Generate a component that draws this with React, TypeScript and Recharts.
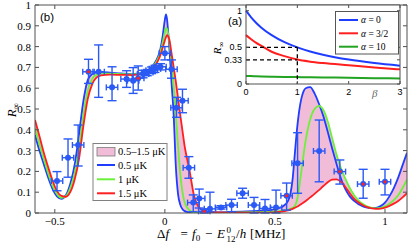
import React from "react";
import {
  ComposedChart,
  Line,
  Area,
  Scatter,
  ErrorBar,
  XAxis,
  YAxis,
  ReferenceLine,
  CartesianGrid,
} from "recharts";

// ---------- main panel (b): theory curves ----------
const freqMHz = [
  -0.59, -0.57, -0.55, -0.53, -0.51, -0.49, -0.47, -0.45, -0.43, -0.41, -0.39, -0.37, -0.35, -0.33, -0.31, -0.29,
  -0.25, -0.2, -0.15, -0.1, -0.07, -0.05, -0.03, -0.02, -0.01, 0, 0.005, 0.01, 0.015, 0.02, 0.03, 0.04, 0.05, 0.06,
  0.07, 0.08, 0.09, 0.1, 0.11, 0.12, 0.13, 0.14, 0.15, 0.17, 0.2, 0.25, 0.3, 0.35, 0.4, 0.45, 0.5, 0.52, 0.54, 0.56,
  0.57, 0.58, 0.59, 0.6, 0.61, 0.62, 0.63, 0.64, 0.66, 0.68, 0.7, 0.72, 0.74, 0.76, 0.78, 0.8, 0.82, 0.84, 0.86,
  0.88, 0.9, 0.92, 0.94, 0.96, 0.98, 1.0, 1.02, 1.04, 1.06, 1.08, 1.1,
];
const r05uK = [
  0.375, 0.3, 0.235, 0.17, 0.115, 0.08, 0.068, 0.085, 0.14, 0.23, 0.38, 0.54, 0.64, 0.668, 0.676, 0.677,
  0.675, 0.671, 0.668, 0.675, 0.69, 0.715, 0.755, 0.79, 0.85, 0.93, 0.955, 0.93, 0.87, 0.8, 0.63, 0.47, 0.22, 0.09,
  0.04, 0.018, 0.009, 0.005, 0.003, 0.002, 0.001, 0.001, 0.001, 0.001, 0.002, 0.003, 0.005, 0.007, 0.009, 0.012, 0.018, 0.024, 0.035, 0.06,
  0.09, 0.16, 0.28, 0.4, 0.49, 0.55, 0.585, 0.6, 0.605, 0.575, 0.525, 0.465, 0.39, 0.31, 0.235, 0.165, 0.115, 0.08, 0.058,
  0.042, 0.032, 0.026, 0.023, 0.025, 0.033, 0.05, 0.08, 0.12, 0.17, 0.23, 0.29,
];
const r1uK = [
  0.41, 0.33, 0.26, 0.19, 0.13, 0.09, 0.073, 0.08, 0.12, 0.19, 0.31, 0.47, 0.59, 0.645, 0.665, 0.67,
  0.67, 0.668, 0.666, 0.673, 0.686, 0.708, 0.745, 0.775, 0.82, 0.87, 0.89, 0.885, 0.86, 0.825, 0.73, 0.61, 0.47, 0.32,
  0.19, 0.1, 0.05, 0.028, 0.015, 0.008, 0.004, 0.002, 0.001, 0.001, 0.001, 0.001, 0.002, 0.003, 0.004, 0.005, 0.007, 0.009, 0.012, 0.016,
  0.02, 0.025, 0.033, 0.06, 0.12, 0.2, 0.28, 0.35, 0.45, 0.5, 0.515, 0.495, 0.44, 0.36, 0.28, 0.215, 0.165, 0.12, 0.085,
  0.06, 0.043, 0.031, 0.025, 0.022, 0.024, 0.032, 0.045, 0.062, 0.085, 0.12, 0.16,
];
const r15uK = [
  0.447, 0.37, 0.29, 0.22, 0.155, 0.105, 0.082, 0.078, 0.1, 0.16, 0.26, 0.42, 0.55, 0.62, 0.652, 0.662,
  0.665, 0.664, 0.663, 0.67, 0.682, 0.7, 0.735, 0.76, 0.795, 0.83, 0.845, 0.855, 0.85, 0.835, 0.77, 0.7, 0.63, 0.55,
  0.47, 0.395, 0.32, 0.265, 0.215, 0.155, 0.095, 0.058, 0.035, 0.014, 0.005, 0.003, 0.002, 0.002, 0.002, 0.002, 0.003, 0.005, 0.008, 0.012,
  0.016, 0.02, 0.025, 0.03, 0.036, 0.043, 0.05, 0.058, 0.075, 0.092, 0.11, 0.13, 0.148, 0.16, 0.162, 0.15, 0.125, 0.095, 0.068,
  0.05, 0.037, 0.028, 0.022, 0.02, 0.021, 0.026, 0.034, 0.045, 0.058, 0.075, 0.095,
];

// ---------- main panel (b): measurements ----------
const measF = [
  -0.49, -0.44, -0.394, -0.347, -0.301, -0.24, -0.174, -0.144, -0.121, -0.099, -0.08, -0.06, -0.045, -0.02, 0.0,
  0.03, 0.053, 0.08, 0.109, 0.129, 0.156, 0.179, 0.205, 0.255, 0.303, 0.353, 0.405, 0.455, 0.505, 0.553, 0.603,
  0.701, 0.795, 0.901, 1.0,
];
const measR = [
  0.154, 0.266, 0.327, 0.679, 0.679, 0.604, 0.644, 0.636, 0.648, 0.668, 0.675, 0.686, 0.693, 0.703, 0.768,
  0.691, 0.506, 0.54, 0.218, 0.05, 0.07, 0.008, 0.02, 0.027, 0.038, 0.095, 0.038, 0.022, 0.027, 0.083, 0.239,
  0.298, 0.199, 0.139, 0.15,
];
const measLow = [
  0.107, 0.172, 0.226, 0.623, 0.556, 0.54, 0.604, 0.575, 0.591, 0.65, 0.66, 0.67, 0.676, 0.688, 0.736,
  0.648, 0.46, 0.482, 0.167, 0.006, 0.024, 0.0, 0.005, 0.019, 0.006, 0.071, 0.0, 0.0, 0.0, 0.014, 0.095,
  0.15, 0.139, 0.071, 0.087,
];
const measHigh = [
  0.199, 0.356, 0.423, 0.739, 0.808, 0.703, 0.684, 0.699, 0.707, 0.686, 0.69, 0.702, 0.71, 0.718, 0.8,
  0.736, 0.556, 0.595, 0.271, 0.087, 0.115, 0.018, 0.1, 0.035, 0.066, 0.119, 0.075, 0.065, 0.11, 0.144, 0.386,
  0.447, 0.255, 0.21, 0.21,
];
const measRedDot = [
  0, 0, 0, 1, 0, 0, 0, 0, 1, 0, 0, 0, 0, 0, 0,
  0, 0, 0, 0, 0, 0, 1, 0, 0, 0, 0, 0, 0, 0, 1, 0,
  0, 1, 1, 1,
];
const measFErr = 0.026;

const mainXTicks = [-0.5, 0, 0.5, 1];
const mainYTicks = [0, 0.1, 0.2, 0.3, 0.4, 0.5, 0.6, 0.7, 0.8, 0.9, 1];
const mainLegend = ["0.5\u20131.5 \u03bcK", "0.5 \u03bcK", "1 \u03bcK", "1.5 \u03bcK"];

// ---------- inset (a) ----------
const betaVals = [0, 0.1, 0.2, 0.3, 0.5, 0.75, 1, 1.25, 1.5, 2, 2.5, 3];
const alpha0 = [1, 0.909, 0.833, 0.769, 0.667, 0.571, 0.5, 0.444, 0.4, 0.333, 0.286, 0.25];
const alpha32 = [0.667, 0.61, 0.56, 0.52, 0.44, 0.38, 0.333, 0.305, 0.285, 0.255, 0.225, 0.2];
const alpha10 = [0.11, 0.108, 0.106, 0.104, 0.1, 0.097, 0.094, 0.091, 0.089, 0.085, 0.08, 0.076];
const insetXTicks = [0, 1, 2, 3];
const insetYTicks = [0, 0.33, 0.5, 1];
const insetLegend = ["0", "3/2", "10"];

// ---------- styles ----------
const AX = "#505050";
const SERIF = "'Liberation Serif', 'Times New Roman', serif";
const SANS = "'Liberation Sans', Arial, sans-serif";
const BLUE = "#1f3dff";
const GREEN = "#6cf03a";
const RED = "#ff1f1f";
const PINK = "#f0bcd8";
const PT = "#2a59f5";
const IGREEN = "#22a322";

const fmt = (v: number) => (v < 0 ? "\u2212" + String(-v) : String(v));

const MainBottomTick = (p: any) => (
  <g>
    <line x1={p.x} x2={p.x} y1={p.y - 8} y2={p.y - 12} stroke={AX} />
    <text x={p.x} y={p.y + 3.5} textAnchor="middle" fontFamily={SERIF} fontSize={11} fill="#000">
      {fmt(p.payload.value)}
    </text>
  </g>
);
const MainLeftTick = (p: any) => (
  <g>
    <line x1={p.x + 8} x2={p.x + 12} y1={p.y} y2={p.y} stroke={AX} />
    <text x={p.x + 4} y={p.y + 4} textAnchor="end" fontFamily={SERIF} fontSize={11} fill="#000">
      {fmt(p.payload.value)}
    </text>
  </g>
);
const TopTick = (p: any) => <line x1={p.x} x2={p.x} y1={p.y + 8} y2={p.y + 12} stroke={AX} />;
const RightTick = (p: any) => <line x1={p.x - 8} x2={p.x - 12} y1={p.y} y2={p.y} stroke={AX} />;

const InsetBottomTick = (p: any) => (
  <g>
    <line x1={p.x} x2={p.x} y1={p.y - 8} y2={p.y - 11} stroke={AX} />
    <text x={p.x} y={p.y + 2.5} textAnchor="middle" fontFamily={SANS} fontSize={9} fill="#000">
      {String(p.payload.value)}
    </text>
  </g>
);
const InsetLeftTick = (p: any) => (
  <g>
    <line x1={p.x + 8} x2={p.x + 11} y1={p.y} y2={p.y} stroke={AX} />
    <text x={p.x + 4} y={p.y + 3} textAnchor="end" fontFamily={SANS} fontSize={9} fill="#000">
      {String(p.payload.value)}
    </text>
  </g>
);
const InsetTopTick = (p: any) => <line x1={p.x} x2={p.x} y1={p.y + 8} y2={p.y + 11} stroke={AX} />;
const InsetRightTick = (p: any) => <line x1={p.x - 8} x2={p.x - 11} y1={p.y} y2={p.y} stroke={AX} />;

const MeasDot = (p: any) => (
  <g>
    <circle cx={p.cx} cy={p.cy} r={3} fill={PT} />
    {p.payload && p.payload.red ? <circle cx={p.cx} cy={p.cy} r={1.6} fill="#ff2020" /> : null}
  </g>
);

export default function App() {
  const rows = freqMHz.map((f, i) => ({
    f,
    b: r05uK[i],
    g: r1uK[i],
    r: r15uK[i],
    band: [Math.min(r05uK[i], r1uK[i], r15uK[i]), Math.max(r05uK[i], r1uK[i], r15uK[i])],
  }));
  const pts = measF.map((f, i) => ({
    f,
    R: measR[i],
    ey: [measR[i] - measLow[i], measHigh[i] - measR[i]],
    ex: measFErr,
    red: measRedDot[i],
  }));
  const insetRows = betaVals.map((beta, i) => ({ beta, a0: alpha0[i], a32: alpha32[i], a10: alpha10[i] }));

  const xDom: [number, number] = [-0.59, 1.1];

  return (
    <div style={{ position: "absolute", left: 0, top: 0, width: 415, height: 243, background: "#fff" }}>
      <div style={{ position: "absolute", left: 0, top: 0 }}>
        <ComposedChart width={415} height={243} data={rows} margin={{ top: 4, right: 7, left: 0, bottom: 0 }}>
          <XAxis
            dataKey="f"
            type="number"
            domain={xDom}
            ticks={mainXTicks}
            interval={0}
            height={30}
            tickSize={6}
            tickMargin={2}
            tickLine={false}
            axisLine={{ stroke: AX }}
            tick={MainBottomTick}
            allowDataOverflow
          />
          <XAxis
            xAxisId="top"
            orientation="top"
            dataKey="f"
            type="number"
            domain={xDom}
            ticks={mainXTicks}
            interval={0}
            height={1}
            tickSize={6}
            tickMargin={2}
            tickLine={false}
            axisLine={{ stroke: AX }}
            tick={TopTick}
            allowDataOverflow
          />
          <YAxis
            type="number"
            domain={[0, 1]}
            ticks={mainYTicks}
            interval={0}
            width={35}
            tickSize={6}
            tickMargin={2}
            tickLine={false}
            axisLine={{ stroke: AX }}
            tick={MainLeftTick}
            allowDataOverflow
          />
          <YAxis
            yAxisId="right"
            orientation="right"
            type="number"
            domain={[0, 1]}
            ticks={mainYTicks}
            interval={0}
            width={1}
            tickSize={6}
            tickMargin={2}
            tickLine={false}
            axisLine={{ stroke: AX }}
            tick={RightTick}
            allowDataOverflow
          />
          <Area
            dataKey="band"
            type="monotone"
            stroke="none"
            fill={PINK}
            fillOpacity={1}
            isAnimationActive={false}
            activeDot={false}
          />
          <Line dataKey="b" type="monotone" stroke={BLUE} strokeWidth={1.8} dot={false} isAnimationActive={false} />
          <Line dataKey="g" type="monotone" stroke={GREEN} strokeWidth={1.8} dot={false} isAnimationActive={false} />
          <Line dataKey="r" type="monotone" stroke={RED} strokeWidth={1.8} dot={false} isAnimationActive={false} />
          <Scatter data={pts} dataKey="R" shape={MeasDot} isAnimationActive={false}>
            <ErrorBar dataKey="ey" direction="y" width={4.5} stroke={PT} strokeWidth={1.4} />
            <ErrorBar dataKey="ex" direction="x" width={3} stroke={PT} strokeWidth={1.4} />
          </Scatter>
        </ComposedChart>
      </div>

      <div style={{ position: "absolute", left: 200, top: 0 }}>
        <ComposedChart width={210} height={105} data={insetRows} margin={{ top: 4, right: 9, left: 0, bottom: 0 }}>
          <CartesianGrid horizontal={false} vertical={false} fill="#ffffff" fillOpacity={1} stroke="none" />
          <XAxis
            dataKey="beta"
            type="number"
            domain={[0, 3]}
            ticks={insetXTicks}
            interval={0}
            height={21}
            tickSize={6}
            tickMargin={2}
            tickLine={false}
            axisLine={{ stroke: AX }}
            tick={InsetBottomTick}
          />
          <XAxis
            xAxisId="top"
            orientation="top"
            dataKey="beta"
            type="number"
            domain={[0, 3]}
            ticks={insetXTicks}
            interval={0}
            height={1}
            tickSize={6}
            tickMargin={2}
            tickLine={false}
            axisLine={{ stroke: AX }}
            tick={InsetTopTick}
          />
          <YAxis
            type="number"
            domain={[0, 1.078]}
            ticks={insetYTicks}
            interval={0}
            width={46}
            tickSize={6}
            tickMargin={2}
            tickLine={false}
            axisLine={{ stroke: AX }}
            tick={InsetLeftTick}
            allowDataOverflow
          />
          <YAxis
            yAxisId="right"
            orientation="right"
            type="number"
            domain={[0, 1.078]}
            ticks={insetYTicks}
            interval={0}
            width={1}
            tickSize={6}
            tickMargin={2}
            tickLine={false}
            axisLine={{ stroke: AX }}
            tick={InsetRightTick}
            allowDataOverflow
          />
          <Line dataKey="a0" type="monotone" stroke={BLUE} strokeWidth={2} dot={false} isAnimationActive={false} />
          <Line dataKey="a32" type="monotone" stroke={RED} strokeWidth={2} dot={false} isAnimationActive={false} />
          <Line dataKey="a10" type="monotone" stroke={IGREEN} strokeWidth={2} dot={false} isAnimationActive={false} />
          <ReferenceLine
            segment={[{ x: 0, y: 0.5 }, { x: 1, y: 0.5 }]}
            stroke="#000"
            strokeWidth={1.3}
            strokeDasharray="4 3"
          />
          <ReferenceLine
            segment={[{ x: 0, y: 0.33 }, { x: 1, y: 0.33 }]}
            stroke="#000"
            strokeWidth={1.3}
            strokeDasharray="4 3"
          />
          <ReferenceLine
            segment={[{ x: 1, y: 0.5 }, { x: 1, y: 0 }]}
            stroke="#000"
            strokeWidth={1.3}
            strokeDasharray="4 3"
          />
        </ComposedChart>
      </div>

      <svg
        width={415}
        height={243}
        style={{ position: "absolute", left: 0, top: 0, pointerEvents: "none" }}
      >
        {/* panel labels */}
        <text x={40} y={20.5} fontFamily={SANS} fontSize={11.5} fill="#000">(b)</text>
        <text x={228} y={25} fontFamily={SANS} fontSize={11.5} fill="#000">(a)</text>

        {/* main y label */}
        <text transform="rotate(-90 16 110)" x={16} y={110} textAnchor="middle" fontFamily={SERIF} fontSize={13} fill="#000">
          <tspan fontStyle="italic">R</tspan>
          <tspan fontSize={9} dy={3}>{"\u221e"}</tspan>
        </text>

        {/* main x label */}
        <text fontFamily={SERIF} fontSize={13} fill="#000">
          <tspan x={157} y={238}>{"\u0394"}</tspan>
          <tspan fontStyle="italic" y={238}>f</tspan>
          <tspan x={180.5} y={238}>=</tspan>
          <tspan x={192} y={238} fontStyle="italic">f</tspan>
          <tspan fontSize={9} y={241}>0</tspan>
          <tspan x={205} y={238}>{"\u2212"}</tspan>
          <tspan x={217} y={238} fontStyle="italic">E</tspan>
          <tspan x={226.5} y={233} fontSize={9}>0</tspan>
          <tspan x={226.5} y={241.5} fontSize={9}>12</tspan>
          <tspan x={236} y={238}>/</tspan>
          <tspan fontStyle="italic" y={238}>h</tspan>
          <tspan x={250} y={238}>[MHz]</tspan>
        </text>

        {/* main legend */}
        <rect x={93} y={143.5} width={74} height={57} fill="#fff" stroke="#808080" strokeWidth={1} />
        <rect x={97} y={147.5} width={18} height={8.5} fill={PINK} stroke="#7a7a7a" strokeWidth={0.8} />
        <line x1={97} x2={115} y1={165} y2={165} stroke={BLUE} strokeWidth={2} />
        <line x1={97} x2={115} y1={179.3} y2={179.3} stroke={GREEN} strokeWidth={2} />
        <line x1={97} x2={115} y1={193.3} y2={193.3} stroke={RED} strokeWidth={2} />
        {mainLegend.map((t, i) => (
          <text key={t} x={118} y={[155.4, 168.6, 183, 197][i]} fontFamily={SERIF} fontSize={10.5} fill="#000">
            {t}
          </text>
        ))}

        {/* inset y label and beta */}
        <text transform="rotate(-90 221 48)" x={221} y={48} textAnchor="middle" fontFamily={SERIF} fontSize={11} fill="#000">
          <tspan fontStyle="italic">R</tspan>
          <tspan fontSize={8} dy={2.5}>{"\u221e"}</tspan>
        </text>
        <text x={372} y={97} fontFamily={SERIF} fontStyle="italic" fontSize={11} fill="#6a6a6a">{"\u03b2"}</text>

        {/* inset legend */}
        <rect x={335.5} y={11.5} width={63} height={42.5} fill="#fff" stroke="#555" strokeWidth={1} />
        {[BLUE, RED, IGREEN].map((c, i) => (
          <line key={c} x1={339} x2={358} y1={[20, 33.3, 46.7][i]} y2={[20, 33.3, 46.7][i]} stroke={c} strokeWidth={2} />
        ))}
        {insetLegend.map((t, i) => (
          <text key={t} x={361} y={[23.2, 36.5, 49.9][i]} fontFamily={SERIF} fontSize={9.5} fill="#000">
            <tspan fontStyle="italic">{"\u03b1"}</tspan>
            {" = " + t}
          </text>
        ))}
      </svg>
    </div>
  );
}
